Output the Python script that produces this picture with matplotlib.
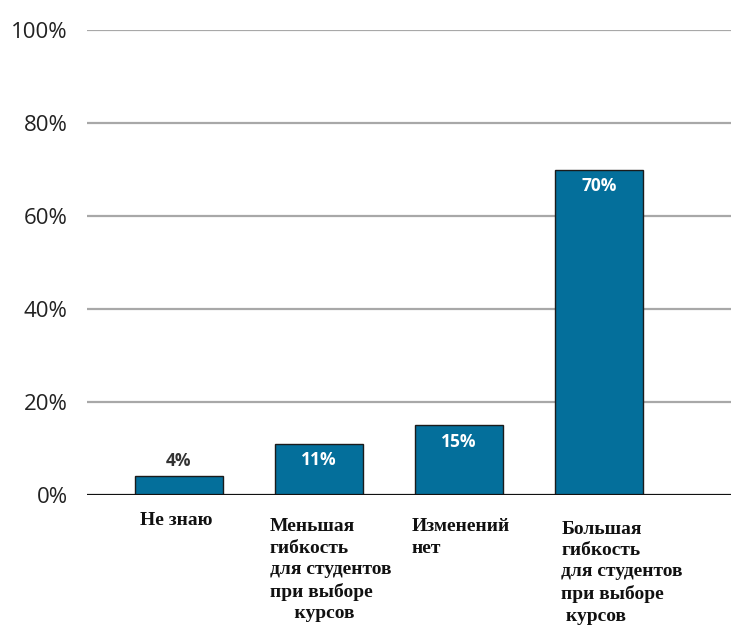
import matplotlib.pyplot as plt
import numpy as np

# survey answers and shares, %
categories = [
    "Не знаю",
    "Меньшая\nгибкость\nдля студентов\nпри выборе\n     курсов",
    "Изменений\nнет",
    "Большая\nгибкость\nдля студентов\nпри выборе\n курсов",
]
shares = [4, 11, 15, 70]
value_labels = ["4%", "11%", "15%", "70%"]
y_ticks = [0, 20, 40, 60, 80, 100]
y_tick_labels = ["0%", "20%", "40%", "60%", "80%", "100%"]

bar_color = "#046f9b"
grid_color = "#a8a8a8"

fig = plt.figure(figsize=(7.31, 6.25), dpi=100)
ax = fig.add_axes([0.119, 0.208, 0.881, 0.744])

x = np.arange(len(shares))
ax.set_xlim(-0.657, 3.943)
ax.set_ylim(0, 100)

for t in y_ticks[1:]:
    ax.axhline(t, color=grid_color, linewidth=1.6, zorder=0)
ax.axhline(0, color="#111111", linewidth=1.6, zorder=3)

bars = ax.bar(x, shares, width=0.63, color=bar_color,
              edgecolor="#1b1b1b", linewidth=1.0, zorder=2)

# value labels: inside the bar if there is room, otherwise above it
for bar, val, lab in zip(bars, shares, value_labels):
    cx = bar.get_x() + bar.get_width() / 2
    if val < 8:
        ax.text(cx, val + 1.4, lab, ha="center", va="bottom",
                fontsize=12.5, fontweight="bold", color="#333333",
                family="Open Sans")
    else:
        ax.text(cx, val - 1.6, lab, ha="center", va="top",
                fontsize=12.5, fontweight="bold", color="white",
                family="Open Sans")

# category names under the bars, left aligned
label_dx = [-0.28, -0.35, -0.34, -0.27]
label_y = [-3.6, -5.0, -5.0, -5.5]
for i, (name, dx, dy) in enumerate(zip(categories, label_dx, label_y)):
    ax.text(i + dx, dy, name, ha="left", va="top", fontsize=14,
            fontweight="bold", family="Liberation Serif", color="#111111",
            linespacing=1.34, clip_on=False)

ax.set_yticks(y_ticks)
ax.set_yticklabels(y_tick_labels, fontsize=16, color="#222222",
                   family="Open Sans")
ax.tick_params(axis="y", length=0, pad=14)
ax.set_xticks([])
for spine in ax.spines.values():
    spine.set_visible(False)

fig.savefig("out.png", dpi=100, facecolor="white")
